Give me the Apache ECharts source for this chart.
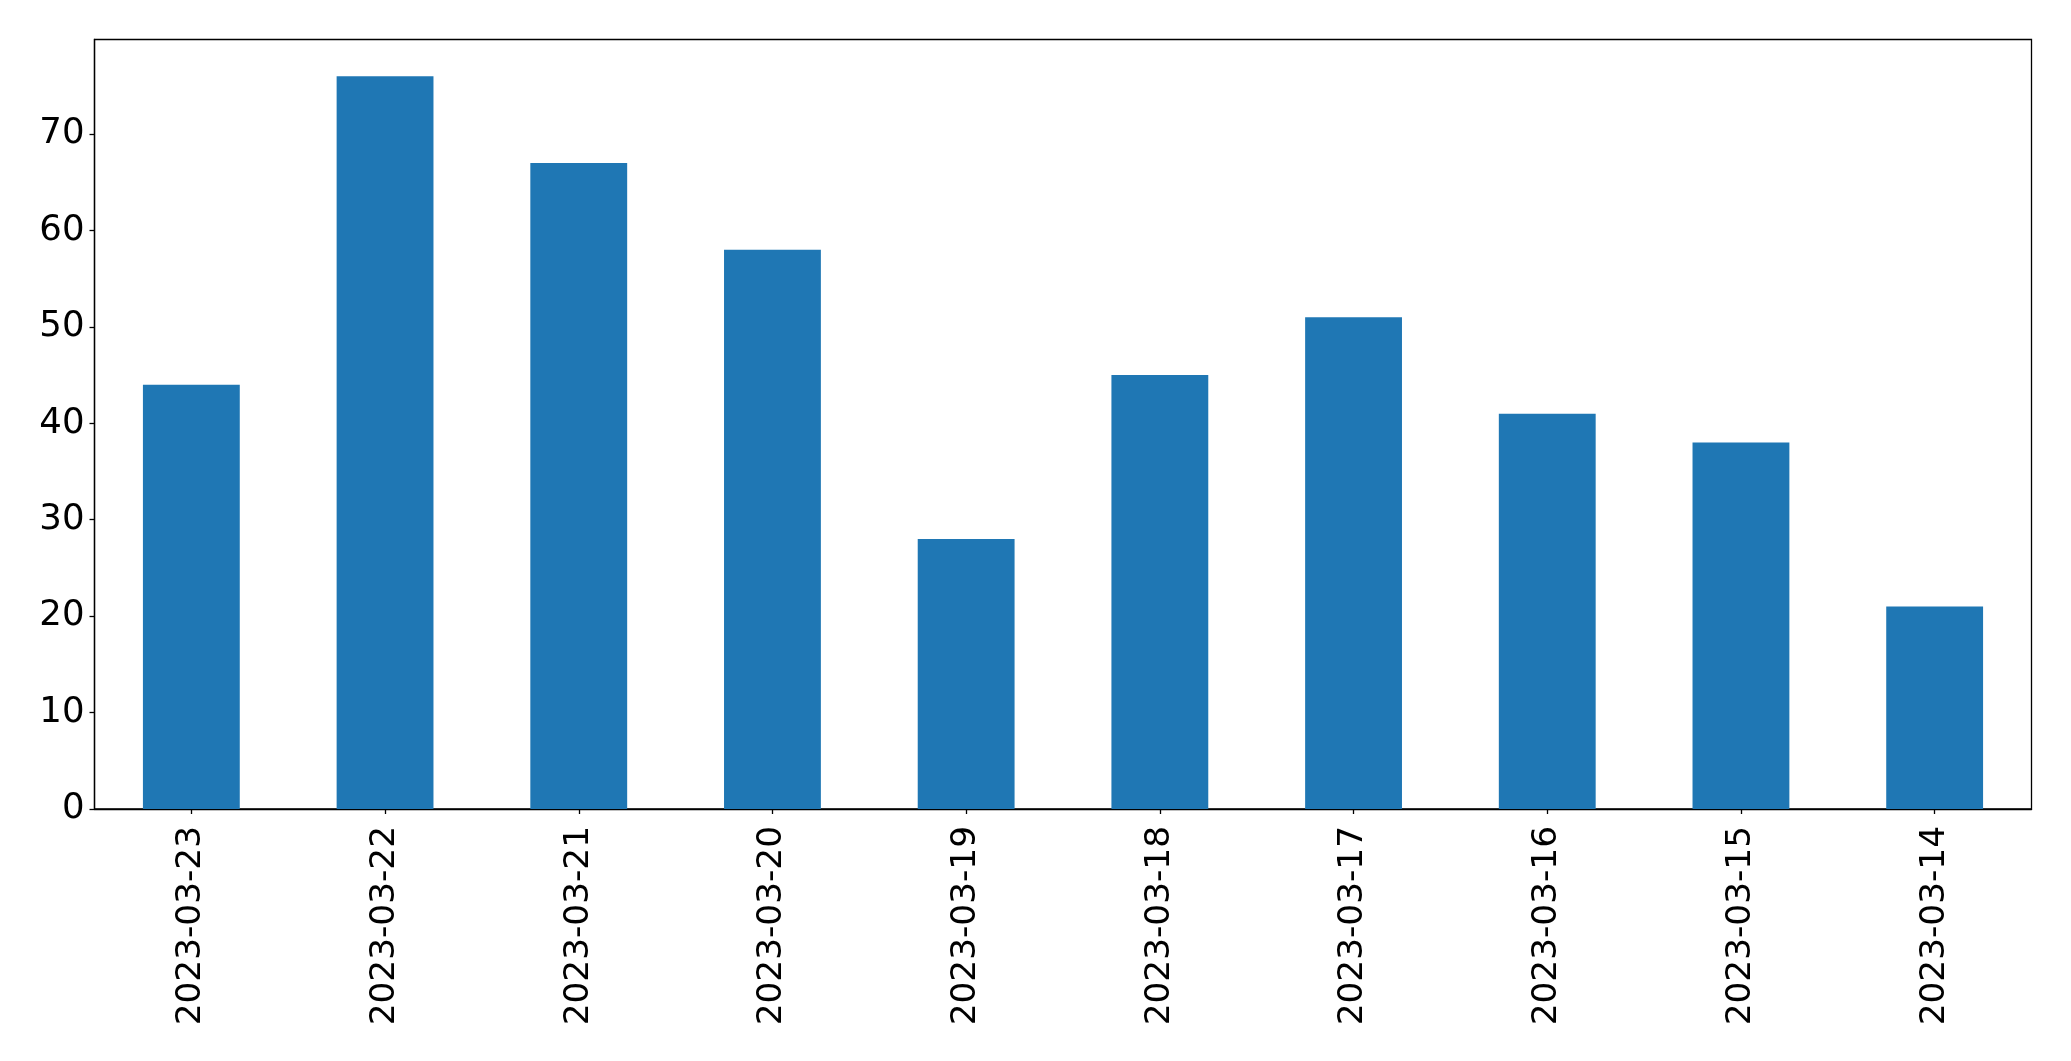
<!DOCTYPE html>
<html>
<head>
<meta charset="utf-8">
<script src="https://cdn.jsdelivr.net/npm/echarts@6/dist/echarts.min.js"></script>
<style>
html,body{margin:0;padding:0;background:#fff;}
#chart{width:2071px;height:1061px;}
</style>
</head>
<body>
<div id="chart"></div>
<script>
const categories = ['2023-03-23','2023-03-22','2023-03-21','2023-03-20','2023-03-19','2023-03-18','2023-03-17','2023-03-16','2023-03-15','2023-03-14'];
const values = [44, 76, 67, 58, 28, 45, 51, 41, 38, 21];
const yTicks = [0, 10, 20, 30, 40, 50, 60, 70];

const chart = echarts.init(document.getElementById('chart'), null, {renderer: 'canvas'});
const font = 'DejaVu Sans';
chart.setOption({
  animation: false,
  backgroundColor: '#fff',
  grid: {
    left: 94.5, right: 39.5, top: 39.5, bottom: 252,
    show: true, borderColor: '#000', borderWidth: 1.3, backgroundColor: 'transparent'
  },
  xAxis: {
    type: 'category',
    data: categories,
    boundaryGap: true,
    axisLine: {show: true, lineStyle: {color: '#000', width: 1.3}},
    axisTick: {show: true, alignWithLabel: true, length: 5, lineStyle: {color: '#000', width: 1.3}},
    axisLabel: {rotate: 90, fontFamily: font, fontSize: 34.3, color: '#000', margin: 17, interval: 0},
    splitLine: {show: false}
  },
  yAxis: {
    type: 'value',
    min: 0,
    max: 79.8,
    interval: 10,
    axisLine: {show: true, lineStyle: {color: '#000', width: 1.3}},
    axisTick: {show: true, length: 5, lineStyle: {color: '#000', width: 1.3}, customValues: yTicks},
    axisLabel: {fontFamily: font, fontSize: 35.5, color: '#000', margin: 10, customValues: yTicks},
    splitLine: {show: false}
  },
  series: [{
    type: 'bar',
    data: values,
    barWidth: '50%',
    itemStyle: {color: '#1f77b4'}
  }]
});
</script>
</body>
</html>
